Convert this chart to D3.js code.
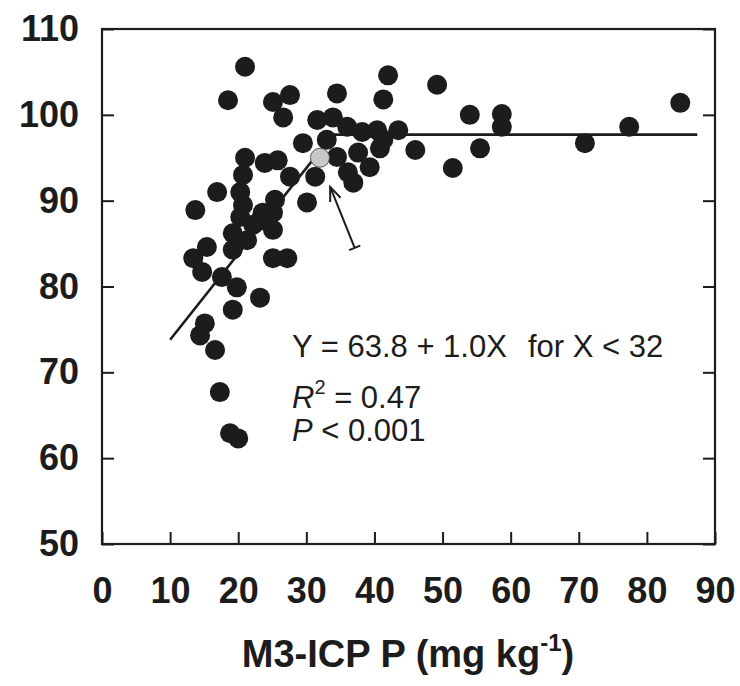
<!DOCTYPE html>
<html><head><meta charset="utf-8">
<script src="https://cdn.jsdelivr.net/npm/d3@7"></script>
<style>body{margin:0;background:#fff}</style></head>
<body><svg id="c" width="740" height="686"></svg>
<script>
// Data
const xTicks = [0, 10, 20, 30, 40, 50, 60, 70, 80, 90];
const yTicks = [50, 60, 70, 80, 90, 100, 110];
const soilP = [
  21.0, 18.5, 25.1, 27.6, 26.6,
  21.0, 20.7, 20.3, 20.7, 20.3, 19.2, 21.3, 23.2, 23.9, 25.8, 27.6, 25.4, 25.1, 25.1, 23.6, 22.2,
  16.9, 13.7, 19.2, 15.4, 13.4, 14.7, 17.6, 19.8, 25.1, 27.2, 23.2, 19.2, 15.1, 14.4, 16.6, 17.3, 18.8, 20.0,
  29.5, 31.6, 33.9, 36.0, 38.2, 40.4, 43.5, 33.0, 34.5, 37.6, 40.8, 41.3, 39.3, 36.1, 36.9, 31.3, 30.1, 34.5, 42.0, 41.3, 46.0,
  49.2, 54.0, 58.7, 58.7, 55.5, 51.5, 70.9, 77.4, 84.9
];
const relYield = [
  105.6, 101.7, 101.5, 102.3, 99.7,
  95.0, 93.0, 91.0, 89.5, 88.1, 86.2, 85.4, 87.7, 94.4, 94.7, 92.8, 90.1, 88.6, 86.6, 88.6, 87.2,
  91.0, 88.9, 84.3, 84.6, 83.3, 81.7, 81.1, 79.9, 83.3, 83.3, 78.7, 77.3, 75.7, 74.3, 72.6, 67.7, 62.9, 62.3,
  96.7, 99.4, 99.7, 98.6, 98.0, 98.2, 98.2, 97.1, 95.1, 95.6, 96.1, 97.1, 93.9, 93.3, 92.1, 92.8, 89.8, 102.5, 104.6, 101.8, 95.9,
  103.5, 100.0, 100.1, 98.6, 96.1, 93.8, 96.7, 98.6, 101.4
];
const highlightP = [32.0];
const highlightYield = [95.0];
const fitX = [10, 33.9, 87.4];
const fitY = [73.8, 97.7, 97.7];
const arrowFrom = [37.1, 84.5];
const arrowTo = [33.5, 91.6];

const svg = d3.select("#c");
const x = d3.scaleLinear().domain([0, 90]).range([102, 715]);
const y = d3.scaleLinear().domain([50, 110]).range([544, 29]);
const ink = "#1c1c1c";
const tickFont = "'Liberation Sans', Arial, sans-serif";

// fitted line
const line = d3.line().x(d => x(d[0])).y(d => y(d[1]));
svg.append("path")
  .datum(fitX.map((v, i) => [v, fitY[i]]))
  .attr("d", line).attr("fill", "none").attr("stroke", ink).attr("stroke-width", 2.6);

// points
svg.append("g").selectAll("circle")
  .data(soilP.map((v, i) => [v, relYield[i]]))
  .join("circle")
  .attr("cx", d => x(d[0])).attr("cy", d => y(d[1])).attr("r", 10)
  .attr("fill", ink);

svg.append("g").selectAll("circle")
  .data(highlightP.map((v, i) => [v, highlightYield[i]]))
  .join("circle")
  .attr("cx", d => x(d[0])).attr("cy", d => y(d[1])).attr("r", 9.5)
  .attr("fill", "#c8c8c8").attr("stroke", "#555").attr("stroke-width", 1);

// arrow
{
  const x1 = x(arrowFrom[0]), y1 = y(arrowFrom[1]);
  const x2 = x(arrowTo[0]), y2 = y(arrowTo[1]);
  const ang = Math.atan2(y2 - y1, x2 - x1);
  const g = svg.append("g").attr("stroke", ink).attr("stroke-width", 2).attr("fill", "none");
  g.append("line").attr("x1", x1).attr("y1", y1).attr("x2", x2).attr("y2", y2);
  const L = 15, a = 0.38;
  const hp = [[x2 - L * Math.cos(ang - a), y2 - L * Math.sin(ang - a)], [x2, y2], [x2 - L * Math.cos(ang + a), y2 - L * Math.sin(ang + a)]];
  g.append("path").attr("d", d3.line()(hp));
  const pa = ang + Math.PI / 2, T = 6;
  g.append("line").attr("x1", x1 - T * Math.cos(pa)).attr("y1", y1 - T * Math.sin(pa))
    .attr("x2", x1 + T * Math.cos(pa)).attr("y2", y1 + T * Math.sin(pa));
}

// axes
function styleAxis(g) {
  g.select(".domain").remove();
  g.selectAll(".tick line").attr("stroke", ink).attr("stroke-width", 2);
  g.selectAll(".tick text").attr("fill", ink).style("font-family", tickFont)
    .style("font-size", "36px").style("font-weight", "bold");
}
svg.append("g").attr("transform", "translate(102,0)")
  .call(d3.axisLeft(y).tickValues(yTicks).tickSize(-12).tickPadding(23)).call(styleAxis);
svg.append("g").attr("transform", "translate(715,0)")
  .call(d3.axisRight(y).tickValues(yTicks).tickSize(-12).tickFormat("")).call(styleAxis);
svg.append("g").attr("transform", "translate(0,544)")
  .call(d3.axisBottom(x).tickValues(xTicks).tickSize(-12).tickPadding(33)).call(styleAxis);

svg.append("rect").attr("x", 102).attr("y", 29).attr("width", 613).attr("height", 515)
  .attr("fill", "none").attr("stroke", ink).attr("stroke-width", 2.2);

// x title
const t = svg.append("text").attr("x", 408).attr("y", 667).attr("text-anchor", "middle")
  .attr("fill", ink).style("font-family", tickFont).style("font-size", "38px").style("font-weight", "bold");
t.append("tspan").text("M3-ICP P (mg kg");
t.append("tspan").attr("dy", -16).style("font-size", "24px").text("-1");
t.append("tspan").attr("dy", 16).text(")");

// annotation
const a1 = svg.append("text").attr("x", 292).attr("y", 357).attr("fill", ink).style("font-family", tickFont).style("font-size", "31px");
a1.append("tspan").text("Y = 63.8 + 1.0X");
a1.append("tspan").attr("x", 528).text("for X < 32");
const a2 = svg.append("text").attr("x", 292).attr("y", 408).attr("fill", ink).style("font-family", tickFont).style("font-size", "31px");
a2.append("tspan").style("font-style", "italic").text("R");
a2.append("tspan").attr("dy", -14).style("font-size", "20px").text("2");
a2.append("tspan").attr("dy", 14).text(" = 0.47");
const a3 = svg.append("text").attr("x", 292).attr("y", 441).attr("fill", ink).style("font-family", tickFont).style("font-size", "31px");
a3.append("tspan").style("font-style", "italic").text("P");
a3.append("tspan").text(" < 0.001");
</script></body></html>
